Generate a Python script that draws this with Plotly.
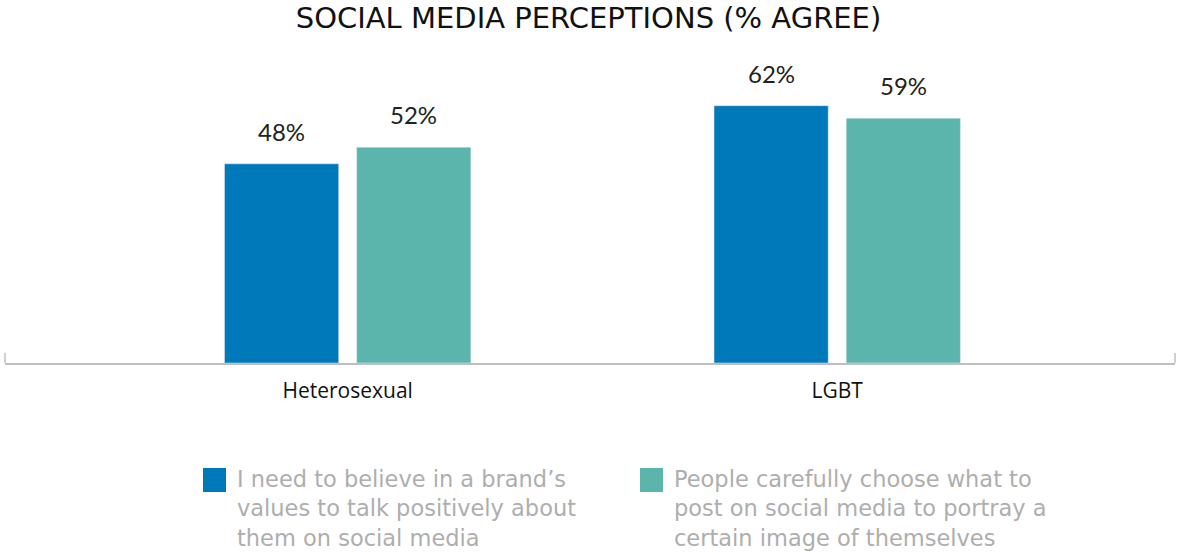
import plotly.graph_objects as go

categories = ["Heterosexual", "LGBT"]
series_names = [
    "I need to believe in a brand’s<br>values to talk positively about<br>them on social media",
    "People carefully choose what to<br>post on social media to portray a<br>certain image of themselves",
]
believe_values = [48, 62]
portray_values = [52, 59]
colors = ["#0079BA", "#5BB5AD"]
title_text = "SOCIAL MEDIA PERCEPTIONS (% AGREE)"

W, H = 1177, 552
ML, MR, MT, MB = 5, 2, 50, 189
PW, PH = W - ML - MR, H - MT - MB


def px_x(px):
    return (px - ML) / PW


def px_y(py):
    return (MT + PH - py) / PH


fig = go.Figure()
for vals, name, col in zip([believe_values, portray_values], series_names, colors):
    fig.add_trace(go.Bar(x=categories, y=vals, name=name.replace("<br>", " "),
                         marker_color=col, showlegend=False, hoverinfo="x+y"))

annotations = []
for vals, shift in zip([believe_values, portray_values], [-66, 66]):
    for c, v in zip(categories, vals):
        annotations.append(dict(x=c, y=v, xref="x", yref="y", text=f"{v}%",
                                showarrow=False, xshift=shift, yshift=16,
                                yanchor="bottom",
                                font=dict(family="Lato", size=24, color="#222222")))

# manual legend (large swatches)
leg_x = [203, 640]
for name, col, lx in zip(series_names, colors, leg_x):
    fig.add_shape(type="rect", xref="paper", yref="paper",
                  x0=px_x(lx), x1=px_x(lx + 23), y0=px_y(492), y1=px_y(468),
                  fillcolor=col, line=dict(width=0))
    annotations.append(dict(x=px_x(lx + 32), y=px_y(508), xref="paper", yref="paper",
                            text=name, showarrow=False, xanchor="left", yanchor="middle",
                            align="left",
                            font=dict(family="DejaVu Sans", size=22.5, color="#AEAEAE")))

# end ticks of axis
for xe in [0, 1]:
    fig.add_shape(type="line", xref="paper", yref="paper", x0=xe, x1=xe,
                  y0=0, y1=10 / PH, line=dict(color="#BFBFBF", width=1.5))

fig.update_layout(
    width=W, height=H,
    margin=dict(l=ML, r=MR, t=MT, b=MB),
    paper_bgcolor="white", plot_bgcolor="white",
    barmode="group", bargap=0.46, bargroupgap=0.136,
    title=dict(text=title_text, x=0.5, xanchor="center", y=1 - 18 / H, yanchor="middle",
               font=dict(family="DejaVu Sans", size=29, color="#111111")),
    xaxis=dict(type="category", range=[-0.7, 1.69], showline=True, linecolor="#BFBFBF",
               linewidth=1.5, ticks="", showgrid=False, zeroline=False,
               ticklabelstandoff=8,
               tickfont=dict(family="Open Sans", size=21, color="#111111")),
    yaxis=dict(range=[0, PH / 4.15], visible=False, showgrid=False, zeroline=False),
    annotations=annotations,
)

fig.write_html("out.html", config={"displayModeBar": False},
               post_script="document.body.style.margin='0';")
